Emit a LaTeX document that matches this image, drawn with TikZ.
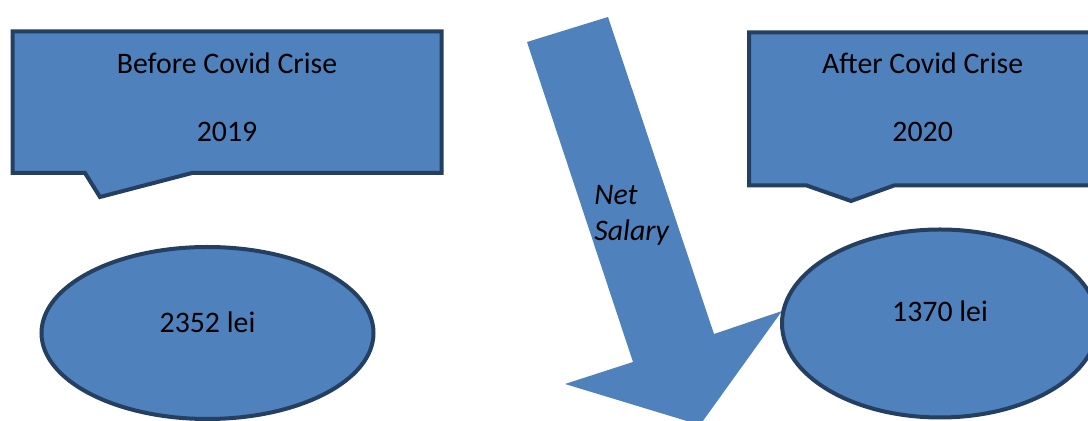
\documentclass[tikz,border=0pt]{standalone}
\usepackage{fontspec}
\setmainfont{Carlito}
\usetikzlibrary{shapes.geometric,positioning,calc}
\definecolor{w_blue}{HTML}{4F81BD}
\definecolor{d_blue}{HTML}{243F60}
\begin{document}
\begin{tikzpicture}[x=0.5pt,y=-0.5pt,
box/.style={draw=d_blue,fill=w_blue,line width=2pt,line join=miter},
oval/.style={ellipse,draw=d_blue,fill=w_blue,line width=2pt,inner sep=0pt},
lbl/.style={font=\fontsize{14.9}{17}\selectfont,align=center,inner sep=0pt}]
\useasboundingbox (0,0) rectangle (1088,421);
\clip (0,0) rectangle (1088,421);
% callouts
\draw[box] (12.5,31.5) -- (441.5,31.5) -- (441.5,173) -- (192,173) -- (100,197) -- (85,173) -- (12.5,173) -- cycle;
\node[lbl] (before) at (227,97) {Before Covid Crise\\[17pt]2019};
\draw[box] (749,32.5) -- (1100,32.5) -- (1100,185.5) -- (894,185.5) -- (851,201) -- (806.7,185.5) -- (749,185.5) -- cycle;
\node[lbl] (after) at (922.7,97) {After Covid Crise\\[17pt]2020};
% salaries
\node[oval,minimum width=166pt,minimum height=86pt] (sal1) at (207.5,333) {};
\node[lbl] (val1) at ([yshift=5.5pt]sal1.center) {2352 lei};
% arrow
\fill[w_blue] (527,42) coordinate (tl) -- (608,17) coordinate (tr) -- (714,334) coordinate (sr)
  -- (782,311) coordinate (wr) -- (700,425) coordinate (tip) -- (565,384) coordinate (wl)
  -- (633,362) coordinate (sl) -- cycle;
\node[lbl,font=\fontsize{14.9}{18}\selectfont\itshape,align=left,anchor=west] (net) at (594,215) {Net\\Salary};
\node[oval,minimum width=158pt,minimum height=94pt] (sal2) at (940,323.5) {};
\node[lbl] (val2) at ([yshift=6pt]sal2.center) {1370 lei};
\end{tikzpicture}
\end{document}
